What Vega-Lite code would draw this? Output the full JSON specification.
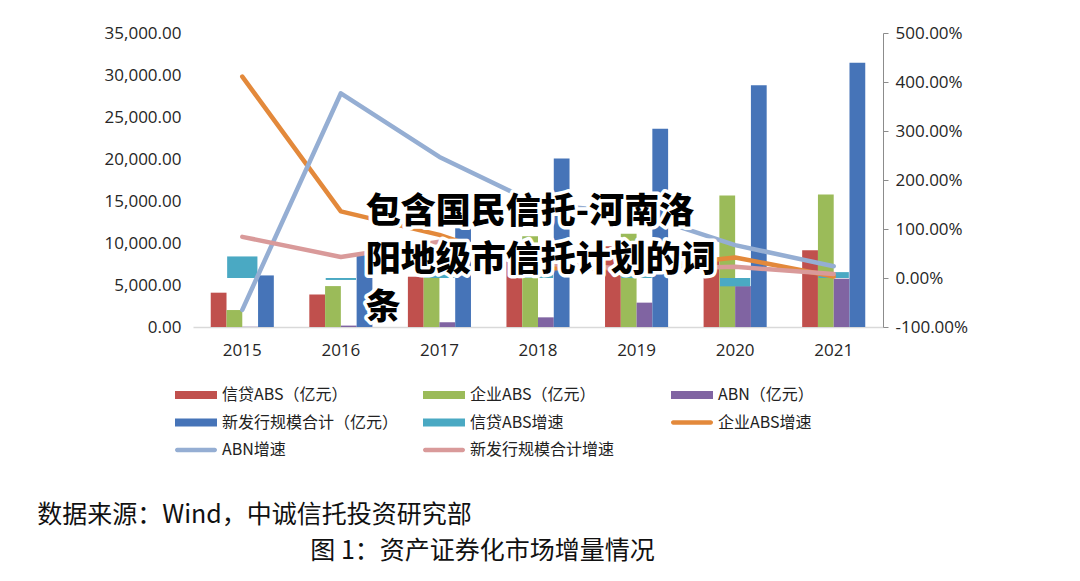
{
  "$schema": "https://vega.github.io/schema/vega-lite/v6.json",
  "width": 690,
  "height": 294,
  "autosize": {"type": "none"},
  "padding": {"left": 193, "top": 33, "right": 197, "bottom": 254},
  "background": "white",
  "config": {
    "view": {"stroke": null},
    "font": "Open Sans",
    "axis": {"grid": false, "labelFont": "Open Sans", "labelFontSize": 17, "labelColor": "#262626", "title": null}
  },
  "datasets": {
    "bars": [
      {"year": "2015", "series": "信贷ABS（亿元）", "value": 4085},
      {"year": "2015", "series": "企业ABS（亿元）", "value": 2020},
      {"year": "2015", "series": "ABN（亿元）", "value": 35},
      {"year": "2015", "series": "新发行规模合计（亿元）", "value": 6140},
      {"year": "2016", "series": "信贷ABS（亿元）", "value": 3880},
      {"year": "2016", "series": "企业ABS（亿元）", "value": 4870},
      {"year": "2016", "series": "ABN（亿元）", "value": 167},
      {"year": "2016", "series": "新发行规模合计（亿元）", "value": 8600},
      {"year": "2017", "series": "信贷ABS（亿元）", "value": 5985},
      {"year": "2017", "series": "企业ABS（亿元）", "value": 8000},
      {"year": "2017", "series": "ABN（亿元）", "value": 570},
      {"year": "2017", "series": "新发行规模合计（亿元）", "value": 15500},
      {"year": "2018", "series": "信贷ABS（亿元）", "value": 9323},
      {"year": "2018", "series": "企业ABS（亿元）", "value": 10800},
      {"year": "2018", "series": "ABN（亿元）", "value": 1150},
      {"year": "2018", "series": "新发行规模合计（亿元）", "value": 20050},
      {"year": "2019", "series": "信贷ABS（亿元）", "value": 9620},
      {"year": "2019", "series": "企业ABS（亿元）", "value": 11090},
      {"year": "2019", "series": "ABN（亿元）", "value": 2900},
      {"year": "2019", "series": "新发行规模合计（亿元）", "value": 23600},
      {"year": "2020", "series": "信贷ABS（亿元）", "value": 8041},
      {"year": "2020", "series": "企业ABS（亿元）", "value": 15640},
      {"year": "2020", "series": "ABN（亿元）", "value": 4870},
      {"year": "2020", "series": "新发行规模合计（亿元）", "value": 28790},
      {"year": "2021", "series": "信贷ABS（亿元）", "value": 9150},
      {"year": "2021", "series": "企业ABS（亿元）", "value": 15760},
      {"year": "2021", "series": "ABN（亿元）", "value": 5750},
      {"year": "2021", "series": "新发行规模合计（亿元）", "value": 31470}
    ],
    "rate": [
      {"year": "2015", "series": "信贷ABS增速", "value": 0.44},
      {"year": "2016", "series": "信贷ABS增速", "value": -0.04},
      {"year": "2017", "series": "信贷ABS增速", "value": 0.54},
      {"year": "2018", "series": "信贷ABS增速", "value": 0.56},
      {"year": "2019", "series": "信贷ABS增速", "value": 0.03},
      {"year": "2020", "series": "信贷ABS增速", "value": -0.17},
      {"year": "2021", "series": "信贷ABS增速", "value": 0.12}
    ],
    "lines": [
      {"year": "2015", "series": "企业ABS增速", "value": 4.11},
      {"year": "2016", "series": "企业ABS增速", "value": 1.36},
      {"year": "2017", "series": "企业ABS增速", "value": 0.88},
      {"year": "2018", "series": "企业ABS增速", "value": 0.2},
      {"year": "2019", "series": "企业ABS增速", "value": 0.2},
      {"year": "2020", "series": "企业ABS增速", "value": 0.42},
      {"year": "2021", "series": "企业ABS增速", "value": 0.03},
      {"year": "2015", "series": "ABN增速", "value": -0.65},
      {"year": "2016", "series": "ABN增速", "value": 3.77},
      {"year": "2017", "series": "ABN增速", "value": 2.47},
      {"year": "2018", "series": "ABN增速", "value": 1.5},
      {"year": "2019", "series": "ABN增速", "value": 1.33},
      {"year": "2020", "series": "ABN增速", "value": 0.67},
      {"year": "2021", "series": "ABN增速", "value": 0.24},
      {"year": "2015", "series": "新发行规模合计增速", "value": 0.84},
      {"year": "2016", "series": "新发行规模合计增速", "value": 0.43},
      {"year": "2017", "series": "新发行规模合计增速", "value": 0.74},
      {"year": "2018", "series": "新发行规模合计增速", "value": 0.3},
      {"year": "2019", "series": "新发行规模合计增速", "value": 0.18},
      {"year": "2020", "series": "新发行规模合计增速", "value": 0.23},
      {"year": "2021", "series": "新发行规模合计增速", "value": 0.08}
    ],
    "watermark": [{"t": "包含国民信托-河南洛\n阳地级市信托计划的词\n条"}],
    "caption1": [{"t": "数据来源：Wind，中诚信托投资研究部"}],
    "caption2": [{"t": "图 1：资产证券化市场增量情况"}]
  },
  "layer": [
    {
      "layer": [
        {
          "data": {"name": "bars"},
          "mark": {"type": "bar"},
          "encoding": {
            "x": {
              "field": "year", "type": "nominal", "title": null,
              "scale": {"paddingInner": 0.36, "paddingOuter": 0.18},
              "axis": {"title": null, "labelAngle": 0, "ticks": false, "domainColor": "#D9D9D9", "domainWidth": 1.5, "labelPadding": 15}
            },
            "xOffset": {
              "field": "series", "type": "nominal",
              "scale": {"domain": ["信贷ABS（亿元）", "企业ABS（亿元）", "ABN（亿元）", "新发行规模合计（亿元）"], "paddingInner": 0, "paddingOuter": 0}
            },
            "y": {
              "field": "value", "type": "quantitative", "stack": null, "title": null,
              "scale": {"domain": [0, 35000], "nice": false},
              "axis": {"title": null, "domain": false, "ticks": false, "values": [0, 5000, 10000, 15000, 20000, 25000, 30000, 35000], "format": ",.2f", "labelPadding": 12}
            },
            "color": {
              "field": "series", "type": "nominal",
              "scale": {
                "domain": ["信贷ABS（亿元）", "企业ABS（亿元）", "ABN（亿元）", "新发行规模合计（亿元）", "信贷ABS增速", "企业ABS增速", "ABN增速", "新发行规模合计增速"],
                "range": ["#C0504D", "#9BBB59", "#8064A2", "#4674B8", "#4AA9C3", "#E3893B", "#95AED3", "#D99A9A"]
              },
              "legend": {
                "orient": "none", "legendX": -18, "legendY": 352,
                "direction": "horizontal", "columns": 3, "title": null,
                "padding": 0, "gridAlign": "all",
                "symbolSize": 400, "labelOffset": 27, "columnPadding": 23, "rowPadding": 9.5,
                "symbolStrokeWidth": 0,
                "symbolType": "M-1,-0.4H3.2V0.4H-1Z",
                "labelFont": "Noto Sans CJK SC", "labelFontSize": 16, "labelColor": "#222222", "labelLimit": 400,
                "encoding": {
                  "symbols": {
                    "shape": {
                      "condition": {"test": "indexof(['企业ABS增速','ABN增速','新发行规模合计增速'], datum.value) >= 0", "value": "M-0.78,-0.22H2.98A0.22,0.22 0 0 1 2.98,0.22H-0.78A0.22,0.22 0 0 1 -0.78,-0.22Z"},
                      "value": "M-1,-0.4H3.2V0.4H-1Z"
                    }
                  }
                }
              }
            }
          }
        }
      ]
    },
    {
      "layer": [
        {
          "data": {"name": "rate"},
          "mark": {"type": "bar", "width": {"band": 0.48}},
          "encoding": {
            "x": {"field": "year", "type": "nominal", "title": null},
            "y": {
              "field": "value", "type": "quantitative", "stack": null, "title": null,
              "scale": {"domain": [-1, 5], "nice": false},
              "axis": {"orient": "right", "title": null, "values": [-1, 0, 1, 2, 3, 4, 5], "format": ".2%", "labelExpr": "replace(datum.label, '−', '-')", "domainColor": "#8C8C8C", "tickColor": "#8C8C8C", "tickSize": 5, "labelPadding": 7}
            },
            "color": {"field": "series", "type": "nominal"}
          }
        },
        {
          "data": {"name": "lines"},
          "mark": {"type": "line", "strokeWidth": 4.5, "strokeCap": "round", "strokeJoin": "round"},
          "encoding": {
            "x": {"field": "year", "type": "nominal", "title": null},
            "y": {"field": "value", "type": "quantitative", "title": null},
            "color": {"field": "series", "type": "nominal"}
          }
        },
        {
          "data": {"name": "watermark"},
          "mark": {"type": "text", "align": "left", "baseline": "top", "lineBreak": "\n", "lineHeight": 48, "font": "Noto Sans CJK SC", "fontWeight": 900, "fontSize": 35, "fill": "white", "stroke": "white", "strokeWidth": 7, "strokeJoin": "round", "dx": 25},
          "encoding": {
            "x": {"datum": "2016", "type": "nominal", "title": null},
            "y": {"datum": 1.69, "type": "quantitative", "title": null},
            "text": {"field": "t"}
          }
        },
        {
          "data": {"name": "watermark"},
          "mark": {"type": "text", "align": "left", "baseline": "top", "lineBreak": "\n", "lineHeight": 48, "font": "Noto Sans CJK SC", "fontWeight": 900, "fontSize": 35, "fill": "#000000", "dx": 25},
          "encoding": {
            "x": {"datum": "2016", "type": "nominal", "title": null},
            "y": {"datum": 1.69, "type": "quantitative", "title": null},
            "text": {"field": "t"}
          }
        },
        {
          "data": {"name": "caption1"},
          "mark": {"type": "text", "align": "left", "baseline": "middle", "font": "Noto Sans CJK SC", "fontSize": 25, "fill": "#111111", "dx": -205},
          "encoding": {
            "x": {"datum": "2015", "type": "nominal", "title": null},
            "y": {"datum": -4.84, "type": "quantitative", "title": null},
            "text": {"field": "t"}
          }
        },
        {
          "data": {"name": "caption2"},
          "mark": {"type": "text", "align": "left", "baseline": "middle", "font": "Noto Sans CJK SC", "fontSize": 25, "fill": "#111111", "dx": 68},
          "encoding": {
            "x": {"datum": "2015", "type": "nominal", "title": null},
            "y": {"datum": -5.57, "type": "quantitative", "title": null},
            "text": {"field": "t"}
          }
        }
      ]
    }
  ],
  "resolve": {"scale": {"y": "independent"}}
}
